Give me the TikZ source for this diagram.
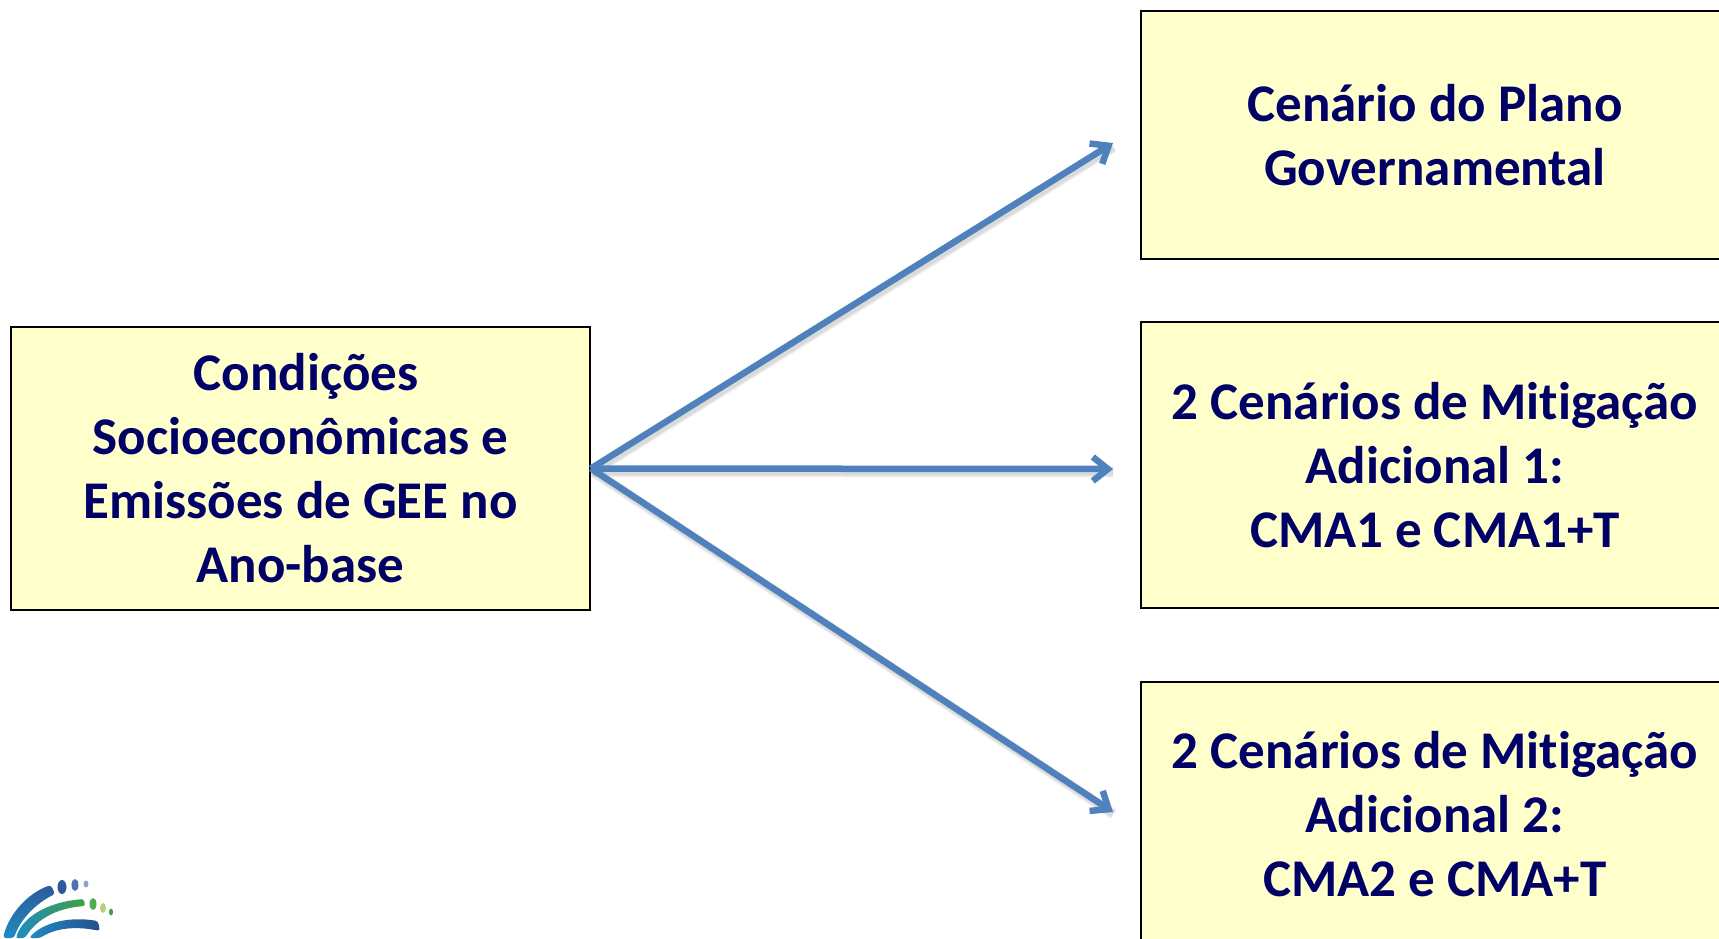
\documentclass[tikz,border=0pt]{standalone}
\usepackage{fontspec}
\setmainfont[Ligatures=NoCommon]{Carlito}
\usetikzlibrary{arrows.meta}
\definecolor{boxfill}{HTML}{FFFFCC}
\definecolor{boxtext}{HTML}{000066}
\definecolor{arrowblue}{HTML}{4F81BD}
\definecolor{logoblue}{HTML}{2C5A9C}
\definecolor{logocyan}{HTML}{1E8CC0}
\definecolor{logodark}{HTML}{24508F}
\definecolor{logogreen}{HTML}{3FA142}
\definecolor{logolime}{HTML}{B5D27A}
\tikzset{
  box/.style={draw=black,line width=1.8pt,fill=boxfill,text=boxtext,inner sep=0pt,align=center,
    font=\fontsize{53}{64}\selectfont\bfseries},
  flow/.style={draw=arrowblue,line width=6.5pt,-{Straight Barb[length=15pt,width=24pt,line width=6.5pt]}},
  flowshade/.style={draw=black,opacity=0.05,shorten >=2pt},
}
\begin{document}
\begin{tikzpicture}[x=1pt,y=-1pt]
\useasboundingbox (0,0) rectangle (1719,938);
\node[box,minimum width=579pt,minimum height=283pt] (base) at (300.5,468.5)
  {\hspace*{11pt}Condições\\Socioeconômicas e\\Emissões de GEE no\\Ano-base};
\node[box,minimum width=588pt,minimum height=248pt] (plano) at (1435,135)
  {Cenário do Plano\\Governamental};
\node[box,minimum width=588pt,minimum height=286pt] (cma1) at (1435,465)
  {2 Cenários de Mitigação\\Adicional 1:\\CMA1 e CMA1+T};
\node[box,minimum width=588pt,minimum height=264pt] (cma2) at (1435,814)
  {2 Cenários de Mitigação\\Adicional 2:\\CMA2 e CMA+T};
\coordinate (t1) at (1113,143);
\coordinate (t2) at (1113,469);
\coordinate (t3) at (1113,812);
\coordinate (s) at (base.east);
% soft shadows under the arrows
\foreach \w in {11,9,7}{
  \draw[flowshade,line width=\w pt] ([shift={(2,3)}]s) -- ([shift={(2,3)}]t1);
  \draw[flowshade,line width=\w pt] ([shift={(2,3)}]s) -- ([shift={(2,3)}]t2);
  \draw[flowshade,line width=\w pt] ([shift={(2,3)}]s) -- ([shift={(2,3)}]t3);
}
\draw[flow] (base.east) -- (t1);
\draw[flow] (base.east) -- (t2);
\draw[flow] (base.east) -- (t3);
% logo
\shade[bottom color=logocyan,top color=logoblue,rounded corners=3pt]
  (3,938) .. controls (9,914) and (28,893) .. (51,885) -- (55,894)
  .. controls (37,903) and (21,918) .. (14,938) -- cycle;
\fill[logoblue] (62,887) ellipse (4.5 and 7);
\fill[logoblue!85!white] (75,885) ellipse (3.5 and 6);
\fill[logoblue!55!white] (86,884) ellipse (2.5 and 3.5);
\shade[left color=logocyan,middle color=logolime,right color=logogreen,rounded corners=2pt]
  (16,938) .. controls (22,918) and (46,902) .. (84,899) -- (85,906)
  .. controls (56,908) and (36,920) .. (25,938) -- cycle;
\fill[logogreen!90!white] (93,904) ellipse (3.5 and 6);
\fill[logolime] (103,908) ellipse (3 and 5);
\fill[logogreen] (111,912) ellipse (2 and 3.5);
\shade[left color=logocyan,right color=logodark,rounded corners=3pt]
  (29,938) .. controls (42,924) and (66,916) .. (98,921) -- (100,931)
  .. controls (76,926) and (56,928) .. (40,938) -- cycle;
\end{tikzpicture}
\end{document}
